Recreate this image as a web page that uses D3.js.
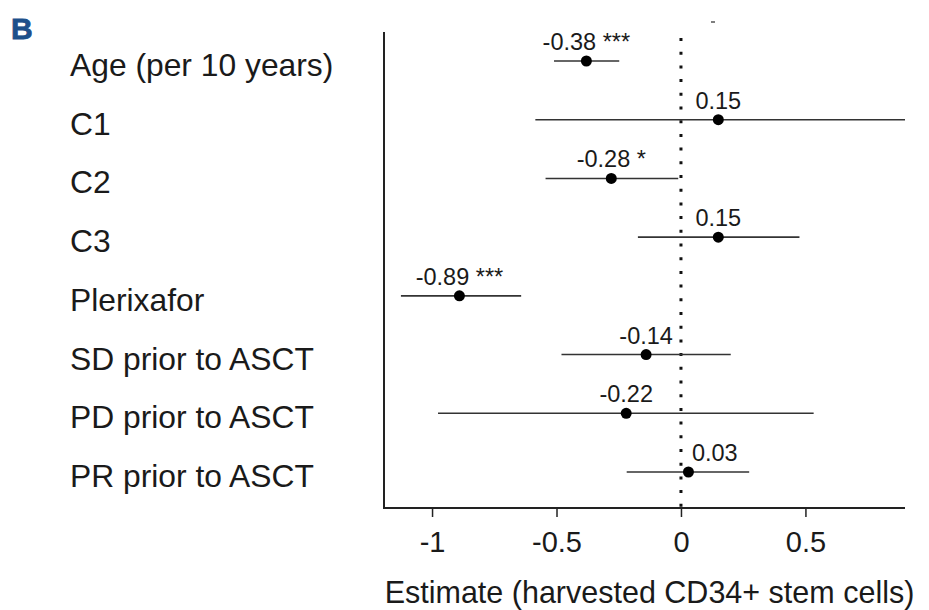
<!DOCTYPE html>
<html>
<head>
<meta charset="utf-8">
<script src="https://cdn.jsdelivr.net/npm/d3@7"></script>
<style>
  body { margin: 0; background: #fff; }
  text { font-family: "Liberation Sans", Arial, sans-serif; fill: #1a1a1a; }
</style>
</head>
<body>
<div class="forest"></div>
<script>
const terms = ["Age (per 10 years)", "C1", "C2", "C3", "Plerixafor",
    "SD prior to ASCT", "PD prior to ASCT", "PR prior to ASCT"]
const estimates = [-0.38, 0.15, -0.28, 0.15, -0.89, -0.14, -0.22, 0.03]
const ciLow = [-0.51, -0.585, -0.544, -0.173, -1.125, -0.48, -0.976, -0.218]
const ciHigh = [-0.248, 0.9, -0.011, 0.476, -0.642, 0.2, 0.533, 0.274]
const stars = ["***", "", "*", "", "***", "", "", ""]
const xTicks = [-1, -0.5, 0, 0.5]

const data = terms.map((t, i) => ({
    term: t, est: estimates[i], lo: ciLow[i], hi: ciHigh[i], sig: stars[i]
}))

const width = 929
const height = 610
const plot = {left: 384, right: 905, top: 32, bottom: 508}
const fmt = v => d3.format(".2f")(v).replace("\u2212", "-")

const svg = d3.select(".forest").append("svg")
    .attr("width", width)
    .attr("height", height)

const xScale = d3.scaleLinear()
    .domain([-1.193, 0.9])
    .range([plot.left, plot.right])

const yScale = d3.scalePoint()
    .domain(terms)
    .range([61, 472])

// panel letter
svg.append("text")
    .attr("x", 11)
    .attr("y", 39)
    .style("font-size", "30px")
    .style("font-weight", "900")
    .style("fill", "#1d4f8a")
    .style("stroke", "#1d4f8a")
    .style("stroke-width", 0.8)
    .text("B")

// tiny stray mark near the top
svg.append("line")
    .attr("x1", 711).attr("x2", 715)
    .attr("y1", 22).attr("y2", 22)
    .attr("stroke", "#555")
    .attr("stroke-width", 1.5)

// zero reference
svg.append("line")
    .attr("x1", xScale(0)).attr("x2", xScale(0))
    .attr("y1", 38).attr("y2", plot.bottom)
    .attr("stroke", "#111")
    .attr("stroke-width", 3)
    .attr("stroke-dasharray", "3,10.7")

// x axis
const xAxis = d3.axisBottom(xScale)
    .tickValues(xTicks)
    .tickFormat(d => String(d))
    .tickSize(9)
    .tickPadding(14)

const xGroup = svg.append("g")
    .attr("transform", `translate(0, ${plot.bottom})`)
    .call(xAxis)
xGroup.select(".domain").remove()
xGroup.selectAll(".tick line").attr("stroke", "#222").attr("stroke-width", 1.5)
xGroup.selectAll(".tick text")
    .attr("font-family", "Liberation Sans, Arial, sans-serif")
    .style("font-size", "29px")
    .attr("fill", "#1a1a1a")
    .attr("dy", "0.71em")

svg.append("path")
    .attr("d", `M${plot.left},${plot.top}V${plot.bottom}H${plot.right}`)
    .attr("fill", "none")
    .attr("stroke", "#222")
    .attr("stroke-width", 2)

svg.append("text")
    .attr("x", (plot.left + plot.right) / 2 + 5)
    .attr("y", 603)
    .style("text-anchor", "middle")
    .style("font-size", "30.5px")
    .text("Estimate (harvested CD34+ stem cells)")

// row labels
svg.selectAll(".term")
    .data(data)
    .join("text")
    .attr("class", "term")
    .attr("x", 70)
    .attr("y", d => yScale(d.term) + 15)
    .style("font-size", "31.8px")
    .text(d => d.term)

// confidence intervals
svg.selectAll(".ci")
    .data(data)
    .join("line")
    .attr("class", "ci")
    .attr("x1", d => xScale(d.lo))
    .attr("x2", d => xScale(d.hi))
    .attr("y1", d => yScale(d.term))
    .attr("y2", d => yScale(d.term))
    .attr("stroke", "#333")
    .attr("stroke-width", 1.6)

svg.selectAll(".pt")
    .data(data)
    .join("circle")
    .attr("class", "pt")
    .attr("cx", d => xScale(d.est))
    .attr("cy", d => yScale(d.term))
    .attr("r", 5.5)
    .attr("fill", "#000")

const labels = svg.selectAll(".lab")
    .data(data)
    .join("text")
    .attr("class", "lab")
    .attr("x", d => xScale(d.est))
    .attr("y", d => yScale(d.term) - 11)
    .style("text-anchor", "middle")
    .style("font-size", "23.5px")
    .text(d => fmt(d.est) + (d.sig ? " " + d.sig : ""))

// push labels off the dotted zero line, like a repel would
const x0 = xScale(0)
labels.each(function(d) {
    const w = this.getComputedTextLength()
    const cx = xScale(d.est)
    if (cx - w / 2 < x0 && cx + w / 2 > x0) {
        d3.select(this).attr("x", x0 + 11 + w / 2)
    }
})
</script>
</body>
</html>
